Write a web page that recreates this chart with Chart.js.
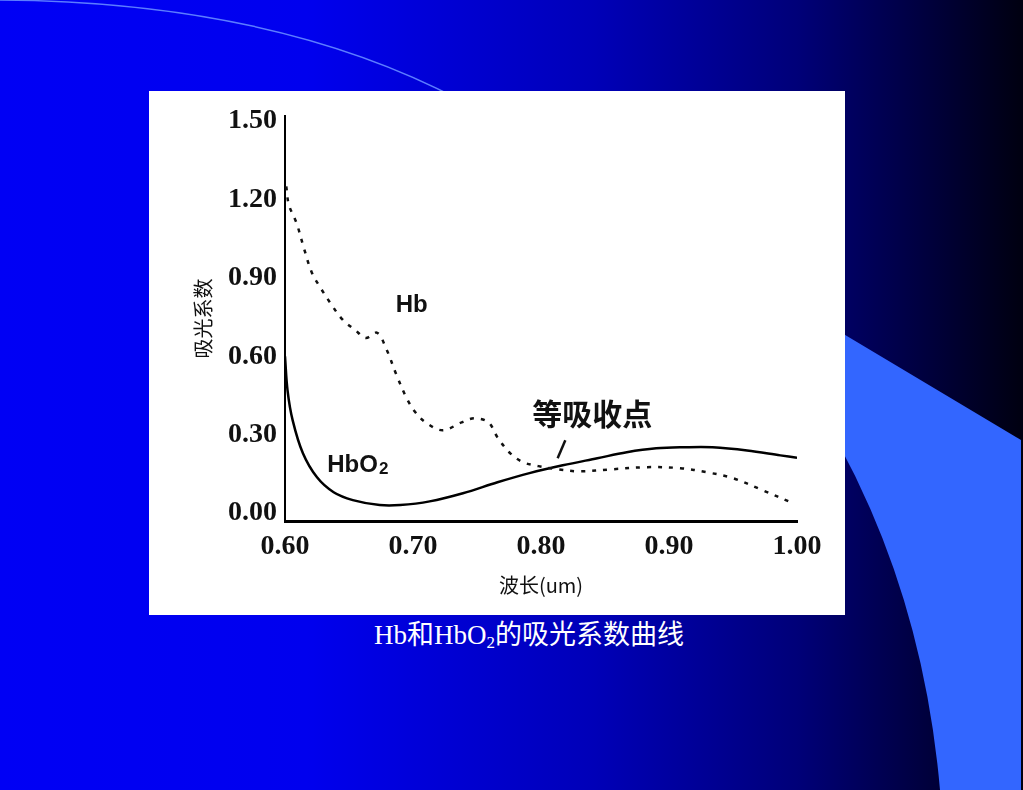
<!DOCTYPE html>
<html>
<head>
<meta charset="utf-8">
<script src="https://cdn.jsdelivr.net/npm/chart.js@4.4.0/dist/chart.umd.min.js"></script>
<style>
  html, body { margin: 0; padding: 0; }
  body {
    width: 1023px; height: 790px; position: relative; overflow: hidden;
    background: linear-gradient(to right, #0000f5 0%, #0000ee 30%, #0000b8 58%, #000078 78%, #000040 90%, #000010 100%);
  }
  #deco { position: absolute; left: 0; top: 0; }
  #box { position: absolute; left: 149px; top: 91px; width: 696px; height: 524px; background: #fff; }
  #caption {
    position: absolute; left: 279px; top: 619px; width: 500px; text-align: center;
    color: #fff; font: 27px/33px "Liberation Serif", "Noto Sans CJK SC", serif;
  }
  #caption sub { font-size: 17px; vertical-align: -4px; line-height: 0; }
</style>
</head>
<body>
<svg id="deco" width="1023" height="790">
  <path d="M -10 0 Q 270 0 460 100" fill="none" stroke="#5c7dff" stroke-width="1.5"/>
  <path d="M 800 308 L 1021 440 L 1021 790 L 940 790 Q 920 560 800 380 Z" fill="#3366ff"/>
</svg>
<div id="box"><canvas id="chart" width="696" height="524"></canvas></div>
<div id="caption">Hb和HbO<sub>2</sub>的吸光系数曲线</div>

<script>
// 波长 (um) 与吸光系数, 读自原图
const xTicks = [0.60, 0.70, 0.80, 0.90, 1.00];
const yTicks = [0.00, 0.30, 0.60, 0.90, 1.20, 1.50];

const hbX = [0.601, 0.603, 0.609, 0.615, 0.621, 0.628, 0.636, 0.645, 0.655, 0.663, 0.672, 0.679, 0.687, 0.695,
             0.702, 0.710, 0.723, 0.738, 0.748, 0.759, 0.766, 0.776, 0.786, 0.798, 0.813, 0.830, 0.856, 0.883,
             0.909, 0.930, 0.950, 0.973, 0.997];
const hbY = [1.25, 1.18, 1.11, 1.01, 0.92, 0.86, 0.80, 0.74, 0.70, 0.67, 0.69, 0.63, 0.53, 0.44,
             0.385, 0.347, 0.317, 0.347, 0.363, 0.347, 0.29, 0.229, 0.195, 0.180, 0.168, 0.160, 0.168, 0.176,
             0.172, 0.156, 0.134, 0.088, 0.038];

const hbo2X = [0.600, 0.602, 0.606, 0.614, 0.625, 0.638, 0.653, 0.674, 0.690, 0.713, 0.739, 0.766, 0.791,
               0.817, 0.844, 0.867, 0.890, 0.912, 0.934, 0.961, 0.987, 1.000];
const hbo2Y = [0.600, 0.469, 0.355, 0.229, 0.137, 0.080, 0.050, 0.031, 0.031, 0.045, 0.076, 0.118, 0.153,
               0.183, 0.210, 0.233, 0.248, 0.252, 0.252, 0.240, 0.221, 0.212];

// 图中标注 (数据坐标)
const notes = [
  { text: 'Hb', x: 0.699, y: 0.794, font: 'bold 24px "Liberation Sans"' },
  { text: 'HbO', sub: '2', x: 0.633, y: 0.183, font: 'bold 24px "Liberation Sans"', align: 'left' },
  { text: '等吸收点', x: 0.840, y: 0.382, font: 'bold 30px "Noto Sans CJK SC"' }
];
const pointer = { x1: 0.819, y1: 0.279, x2: 0.813, y2: 0.210 };

const toPoints = (xs, ys) => xs.map((x, i) => ({ x: x, y: ys[i] }));

const notesPlugin = {
  id: 'notes',
  afterDatasetsDraw(chart) {
    const { ctx, scales: { x, y } } = chart;
    ctx.save();
    ctx.fillStyle = '#111';
    ctx.textBaseline = 'middle';
    notes.forEach(n => {
      const px = x.getPixelForValue(n.x), py = y.getPixelForValue(n.y);
      ctx.font = n.font;
      ctx.textAlign = n.align || 'center';
      ctx.fillText(n.text, px, py);
      if (n.sub) {
        const w = ctx.measureText(n.text).width;
        ctx.font = 'bold 17px "Liberation Sans"';
        ctx.textAlign = 'left';
        ctx.fillText(n.sub, px + w + 1, py + 4);
      }
    });
    ctx.strokeStyle = '#111';
    ctx.lineWidth = 2.5;
    ctx.beginPath();
    ctx.moveTo(x.getPixelForValue(pointer.x1), y.getPixelForValue(pointer.y1));
    ctx.lineTo(x.getPixelForValue(pointer.x2), y.getPixelForValue(pointer.y2));
    ctx.stroke();
    ctx.restore();
  }
};

const tickFont = { family: '"Liberation Serif"', size: 28, weight: 'bold' };

new Chart(document.getElementById('chart').getContext('2d'), {
  type: 'line',
  data: {
    datasets: [
      {
        label: 'Hb',
        data: toPoints(hbX, hbY),
        borderColor: '#111',
        borderWidth: 2.5,
        borderDash: [4, 7],
        tension: 0.35,
        pointRadius: 0,
        fill: false
      },
      {
        label: 'HbO2',
        data: toPoints(hbo2X, hbo2Y),
        borderColor: '#000',
        borderWidth: 2.5,
        tension: 0.35,
        pointRadius: 0,
        fill: false
      }
    ]
  },
  options: {
    responsive: false,
    animation: false,
    layout: { padding: { left: 0, top: 24, right: 48, bottom: 0 } },
    plugins: { legend: { display: false }, tooltip: { enabled: false } },
    scales: {
      x: {
        type: 'linear', min: 0.6, max: 1.0,
        afterBuildTicks: s => { s.ticks = xTicks.map(v => ({ value: v })); },
        afterFit: s => { s.height = 94; },
        grid: { display: false, drawTicks: false },
        border: { display: true, color: '#000', width: 3 },
        ticks: { padding: 9, color: '#111', font: tickFont, maxRotation: 0, callback: v => v.toFixed(2) },
        title: { display: true, text: '波长(um)', color: '#111', font: { family: '"Noto Sans CJK SC"', size: 20 }, padding: { bottom: 18 } }
      },
      y: {
        type: 'linear', min: -0.03, max: 1.52,
        afterBuildTicks: s => { s.ticks = yTicks.map(v => ({ value: v })); },
        afterFit: s => { s.width = 136; },
        grid: { display: false, drawTicks: false },
        border: { display: true, color: '#000', width: 2 },
        ticks: { padding: 8, color: '#111', font: tickFont, callback: v => v.toFixed(2) },
        title: { display: true, text: '吸光系数', color: '#111', font: { family: '"Noto Sans CJK SC"', size: 20 }, padding: { top: 42 } }
      }
    }
  },
  plugins: [notesPlugin]
});
</script>
</body>
</html>
